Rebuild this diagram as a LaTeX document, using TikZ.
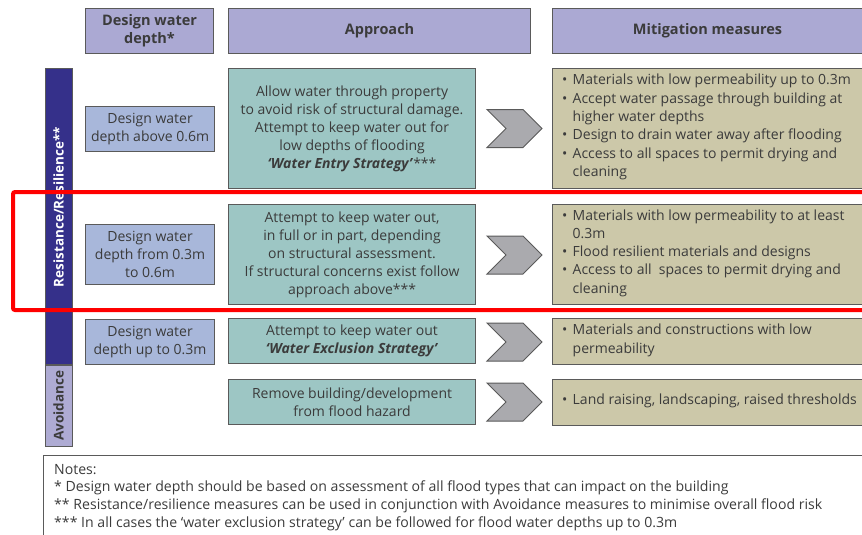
\documentclass[tikz,border=0pt]{standalone}
\usepackage{fontspec}
\setmainfont{Open Sans}
\usetikzlibrary{shapes.symbols}
\definecolor{hdr}{HTML}{ABA9D3}
\definecolor{dark}{HTML}{3B3B3B}
\definecolor{bar}{HTML}{35308A}
\definecolor{avoid}{HTML}{AEABD3}
\definecolor{depth}{HTML}{A8B7DA}
\definecolor{appr}{HTML}{9DC6C4}
\definecolor{miti}{HTML}{CCC8A9}
\definecolor{chevc}{HTML}{AAAAAE}
\definecolor{edge}{HTML}{5A5A5A}
\newcommand{\bl}{\makebox[10.5pt][l]{•}}
\newcommand{\ct}{\hspace*{10.5pt}}
\begin{document}
\begin{tikzpicture}[x=1pt,y=-1pt,
  box/.style={draw=edge, line width=1.1pt, text=dark, inner sep=0pt, anchor=north west},
  txt/.style={font=\fontsize{14}{18}\selectfont, align=center},
  hdrbox/.style={box, fill=hdr, font=\fontsize{14.5}{18}\selectfont\bfseries, align=center},
  depthbox/.style={box, fill=depth, txt, minimum width=129pt},
  apprbox/.style={box, fill=appr, txt, minimum width=247pt},
  mitibox/.style={box, fill=miti, minimum width=316pt},
  mititxt/.style={font=\fontsize{14}{18.3}\selectfont, align=left, text=dark, anchor=west, inner sep=0pt},
  chev/.style={signal, signal from=west, signal to=east, signal pointer angle=90,
    fill=chevc, draw=edge, line width=1pt, minimum width=55pt, minimum height=38pt, inner sep=0pt}]
\useasboundingbox (0,0) rectangle (862,535);
% headers
\node[hdrbox, minimum width=128pt, minimum height=45pt] (h1) at (85,8) {Design water\\depth*};
\node[hdrbox, minimum width=302pt, minimum height=45pt] (h2) at (228,8) {Approach};
\node[hdrbox, minimum width=310pt, minimum height=45pt] (h3) at (552,8) {Mitigation measures};
% side bars
\node[box, fill=bar, minimum width=27pt, minimum height=296pt] (rr) at (45,68) {};
\node[rotate=90, text=white, font=\fontsize{13.5}{15}\selectfont\bfseries] (rrt) at (58.5,207) {Resistance/Resilience**};
\node[box, fill=avoid, minimum width=27pt, minimum height=81pt] (av) at (45,365) {};
\node[rotate=90, text=dark, font=\fontsize{13.5}{15}\selectfont\bfseries] (avt) at (58.5,405.5) {Avoidance};
% row 1
\node[depthbox, minimum height=45pt] (d1) at (85,106) {Design water\\depth above 0.6m};
\node[apprbox, minimum height=120pt] (a1) at (228,68) {Allow water through property\\to avoid risk of structural damage.\\Attempt to keep water out for\\low depths of flooding\\\textbf{\itshape ‘Water Entry Strategy’}***};
\node[chev] (c1) at (514.5,128.5) {};
\node[mitibox, minimum height=120pt] (m1) at (552,68) {};
\node[mititxt] (m1t) at (562,127) {\bl Materials with low permeability up to 0.3m\\\bl Accept water passage through building at\\\ct higher water depths\\\bl Design to drain water away after flooding\\\bl Access to all spaces to permit drying and\\\ct cleaning};
% row 2
\node[depthbox, minimum height=60pt] (d2) at (85,224) {Design water\\depth from 0.3m\\to 0.6m};
\node[apprbox, minimum height=100pt] (a2) at (228,204) {Attempt to keep water out,\\in full or in part, depending\\on structural assessment.\\If structural concerns exist follow\\approach above***};
\node[chev] (c2) at (514.5,255) {};
\node[mitibox, minimum height=100pt] (m2) at (552,204) {};
\node[mititxt] (m2t) at (562,253) {\bl Materials with low permeability to at least\\\ct 0.3m\\\bl Flood resilient materials and designs\\\bl Access to all\ \ spaces to permit drying and\\\ct cleaning};
% row 3
\node[depthbox, minimum height=45pt] (d3) at (85,319) {Design water\\depth up to 0.3m};
\node[apprbox, minimum height=45pt] (a3) at (228,318) {Attempt to keep water out\\\textbf{\itshape ‘Water Exclusion Strategy’}};
\node[chev] (c3) at (514.5,342) {};
\node[mitibox, minimum height=46pt] (m3) at (552,318) {};
\node[mititxt] (m3t) at (562,340.5) {\bl Materials and constructions with low\\\ct permeability};
% row 4
\node[apprbox, minimum height=45pt] (a4) at (228,379) {Remove building/development\\from flood hazard};
\node[chev] (c4) at (514.5,402) {};
\node[mitibox, minimum height=46pt] (m4) at (552,379) {};
\node[mititxt] (m4t) at (562,401) {\bl Land raising, landscaping, raised thresholds};
% notes
\coordinate (ntr) at (880,455);
\coordinate (ntl) at (43.5,455);
\coordinate (nbl) at (43.5,545);
\draw[edge, line width=1pt] (ntr) -- (ntl) -- (nbl);
\node[anchor=north west, align=left, text=dark, inner sep=0pt, font=\fontsize{14.1}{17.6}\selectfont] (notes) at (54,464) {Notes:\\* Design water depth should be based on assessment of all flood types that can impact on the building\\** Resistance/resilience measures can be used in conjunction with Avoidance measures to minimise overall flood risk\\*** In all cases the ‘water exclusion strategy’ can be followed for flood water depths up to 0.3m};
% red highlight
\draw[red, line width=4pt, rounded corners=2pt] (880,192) -- (13,192) -- (13,310) -- (880,310);
\end{tikzpicture}
\end{document}
